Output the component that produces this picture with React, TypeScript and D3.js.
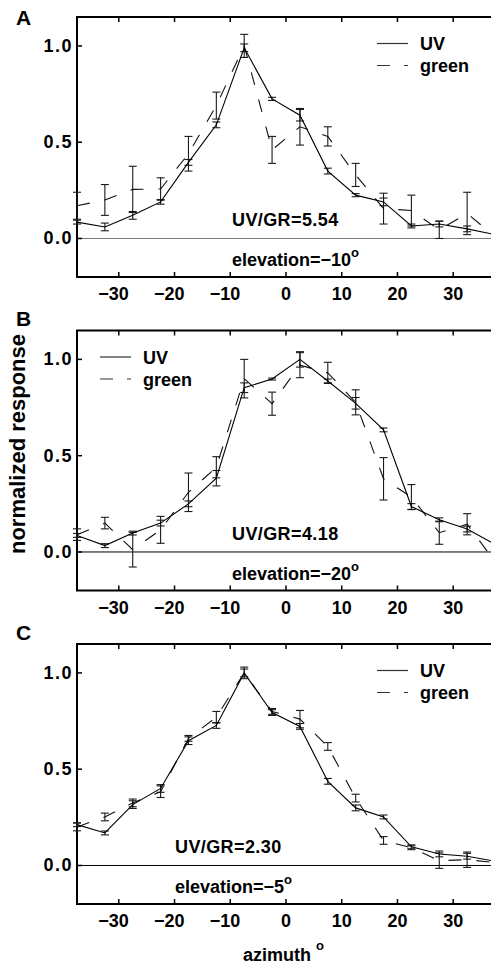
import * as React from 'react';
import * as d3 from 'd3';

// azimuth positions of the stimuli (deg)
const azimuth = [-37.5, -32.5, -27.5, -22.5, -17.5, -12.5, -7.5, -2.5, 2.5, 7.5, 12.5, 17.5, 22.5, 27.5, 32.5, 37.5];

// panel A, elevation -10
const uvA = [0.085, 0.06, 0.12, 0.19, 0.395, 0.59, 0.99, 0.725, 0.64, 0.35, 0.225, 0.19, 0.065, 0.075, 0.05, 0.02];
const uvErrA = [0.01, 0.02, 0.02, 0.012, 0.015, 0.015, 0.02, 0.008, 0.03, 0.015, 0.008, 0.02, 0.01, 0.015, 0.015, 0.01];
const greenA = [0.17, 0.2, 0.255, 0.257, 0.44, 0.69, 1.0, 0.46, 0.58, 0.53, 0.33, 0.155, 0.145, 0.045, 0.13, 0.01];
const greenErrA = [0.07, 0.08, 0.12, 0.058, 0.09, 0.07, 0.06, 0.07, 0.095, 0.05, 0.06, 0.08, 0.08, 0.045, 0.11, 0.05];

// panel B, elevation -20
const uvB = [0.086, 0.033, 0.098, 0.15, 0.25, 0.383, 0.853, 0.898, 1.0, 0.888, 0.772, 0.634, 0.236, 0.167, 0.119, 0.04];
const uvErrB = [0.01, 0.01, 0.01, 0.015, 0.015, 0.04, 0.025, 0.005, 0.04, 0.01, 0.03, 0.01, 0.015, 0.01, 0.015, 0.01];
const greenB = [0.09, 0.15, 0.012, 0.115, 0.31, 0.44, 0.9, 0.77, 0.97, 0.93, 0.777, 0.38, 0.285, 0.1, 0.144, -0.05];
const greenErrB = [0.03, 0.03, 0.09, 0.07, 0.1, 0.055, 0.1, 0.06, 0.065, 0.055, 0.065, 0.11, 0.065, 0.06, 0.055, 0.03];

// panel C, elevation -5
const uvC = [0.212, 0.169, 0.316, 0.4, 0.648, 0.727, 1.0, 0.794, 0.722, 0.437, 0.299, 0.252, 0.097, 0.06, 0.048, 0.022];
const uvErrC = [0.01, 0.01, 0.02, 0.02, 0.02, 0.015, 0.02, 0.015, 0.015, 0.015, 0.015, 0.01, 0.01, 0.015, 0.015, 0.01];
const greenC = [0.2, 0.252, 0.325, 0.383, 0.66, 0.77, 1.0, 0.8, 0.76, 0.618, 0.35, 0.13, 0.092, 0.025, 0.03, 0.015];
const greenErrC = [0.02, 0.02, 0.02, 0.03, 0.015, 0.03, 0.03, 0.015, 0.045, 0.02, 0.02, 0.02, 0.01, 0.04, 0.04, 0.01];

const xTicks = [-30, -20, -10, 0, 10, 20, 30];
const yTicks = [0, 0.5, 1.0];
const panelLetters = ['A', 'B', 'C'];
const ratioLabels = ['UV/GR=5.54', 'UV/GR=4.18', 'UV/GR=2.30'];
const elevationLabels = ['elevation=\u221210', 'elevation=\u221220', 'elevation=\u22125'];

const FONT = '"Liberation Sans", Arial, Helvetica, sans-serif';

const x = d3.scaleLinear().domain([-37.5, 37.5]).range([77, 495]);

type PanelProps = {
  top: number;
  idx: number;
  uv: number[];
  uvErr: number[];
  green: number[];
  greenErr: number[];
  legendX: number;
  labelX: number;
  letterY: number;
  zeroColor: string;
};

function Panel(p: PanelProps) {
  const y = d3.scaleLinear().domain([-0.2, 1.15]).range([p.top + 260, p.top]);
  const line = d3.line<number>().x((_, i) => x(azimuth[i])).y(d => y(d));
  const bottom = y(-0.2);
  const cap = 4;

  const errBars = (vals: number[], errs: number[], key: string) =>
    vals.map((v, i) => {
      const cx = x(azimuth[i]);
      const y1 = y(v + errs[i]);
      const y2 = y(v - errs[i]);
      return (
        <g key={key + i} stroke="#1a1a1a" strokeWidth={1.1}>
          <line x1={cx} x2={cx} y1={y1} y2={y2} />
          <line x1={cx - cap} x2={cx + cap} y1={y1} y2={y1} />
          <line x1={cx - cap} x2={cx + cap} y1={y2} y2={y2} />
        </g>
      );
    });

  return (
    <g>
      <text x={16} y={p.letterY} fontSize={21} fontWeight="bold" fontFamily={FONT}>
        {panelLetters[p.idx]}
      </text>
      {/* zero line */}
      <line x1={77} x2={495} y1={y(0)} y2={y(0)} stroke={p.zeroColor} strokeWidth={1} />
      {/* frame */}
      <path d={`M495,${p.top}H77V${bottom}H495`} fill="none" stroke="#000" strokeWidth={2} />
      {xTicks.map(t => (
        <g key={'xt' + t} stroke="#000" strokeWidth={1.5}>
          <line x1={x(t)} x2={x(t)} y1={p.top} y2={p.top + 5} />
          <line x1={x(t)} x2={x(t)} y1={bottom} y2={bottom - 5} />
        </g>
      ))}
      {xTicks.map(t => (
        <g key={'xl' + t} fontSize={18} fontWeight="bold" fontFamily={FONT}>
          <text x={x(t)} y={bottom + 23} textAnchor="middle">{String(Math.abs(t))}</text>
          {t < 0 && (
            <text x={x(t) - (Math.abs(t) >= 10 ? 10 : 5)} y={bottom + 23} textAnchor="end">{'\u2212'}</text>
          )}
        </g>
      ))}
      {yTicks.map(t => (
        <g key={'yt' + t}>
          <line x1={77} x2={82} y1={y(t)} y2={y(t)} stroke="#000" strokeWidth={1.5} />
          <text x={73} y={y(t) + 6} textAnchor="end" fontSize={18} fontWeight="bold" fontFamily={FONT}
            letterSpacing={1.5}>
            {t.toFixed(1)}
          </text>
        </g>
      ))}
      {/* data */}
      {errBars(p.green, p.greenErr, 'ge')}
      {errBars(p.uv, p.uvErr, 'ue')}
      <path d={line(p.green) || ''} fill="none" stroke="#111" strokeWidth={1.1} strokeDasharray="13,15" />
      <path d={line(p.uv) || ''} fill="none" stroke="#000" strokeWidth={1.1} />
      {/* legend */}
      <line x1={p.legendX} x2={p.legendX + 31} y1={p.top + 26.5} y2={p.top + 26.5} stroke="#333" strokeWidth={1.2} />
      <line x1={p.legendX} x2={p.legendX + 31} y1={p.top + 48.5} y2={p.top + 48.5} stroke="#333" strokeWidth={1.2}
        strokeDasharray="13,14" />
      <text x={p.legendX + 43} y={p.top + 33} fontSize={18} fontWeight="bold" fontFamily={FONT}>UV</text>
      <text x={p.legendX + 43} y={p.top + 55} fontSize={18} fontWeight="bold" fontFamily={FONT}>green</text>
      {/* annotations */}
      <text x={p.labelX} y={y(0) - 12} fontSize={18} fontWeight="bold" fontFamily={FONT} letterSpacing={0.4}>
        {ratioLabels[p.idx]}
      </text>
      <text x={p.labelX} y={y(0) + 28} fontSize={18} fontWeight="bold" fontFamily={FONT}>
        {elevationLabels[p.idx]}
        <tspan fontSize={13} dy={-9}>o</tspan>
      </text>
    </g>
  );
}

export default function App() {
  return (
    <svg width={491} height={964} style={{ position: 'absolute', left: 0, top: 0, background: '#fff' }}>
      <rect width={491} height={964} fill="#fff" />
      <Panel top={17} idx={0} uv={uvA} uvErr={uvErrA} green={greenA} greenErr={greenErrA}
        legendX={377} labelX={232} letterY={25} zeroColor="#777" />
      <Panel top={330.5} idx={1} uv={uvB} uvErr={uvErrB} green={greenB} greenErr={greenErrB}
        legendX={100} labelX={232} letterY={326} zeroColor="#000" />
      <Panel top={644} idx={2} uv={uvC} uvErr={uvErrC} green={greenC} greenErr={greenErrC}
        legendX={377} labelX={175} letterY={640} zeroColor="#000" />
      <text transform="translate(25,444) rotate(-90)" textAnchor="middle" fontSize={22}
        fontWeight="bold" fontFamily={FONT}>
        normalized response
      </text>
      <text x={243} y={961} fontSize={18} fontWeight="bold" fontFamily={FONT}>
        azimuth
        <tspan fontSize={13} dx={5} dy={-11}>o</tspan>
      </text>
    </svg>
  );
}
